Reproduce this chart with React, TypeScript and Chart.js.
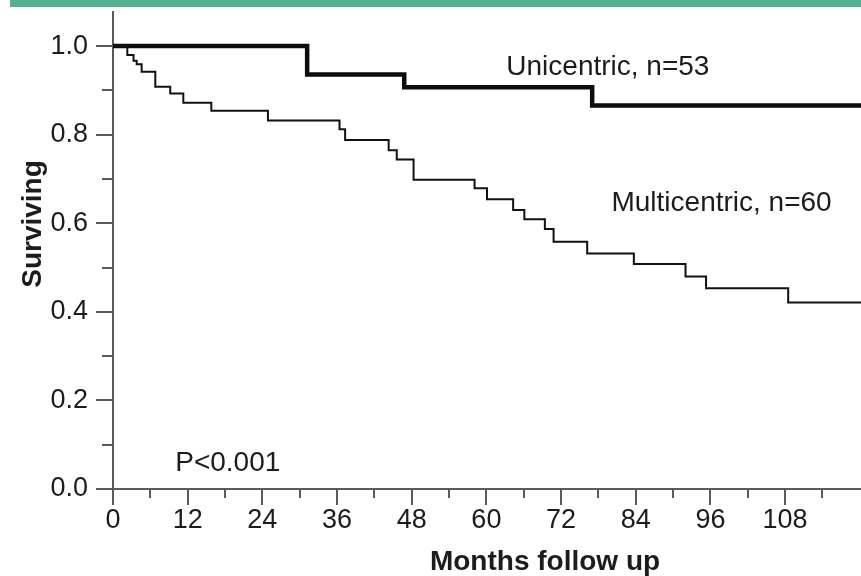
import React, { useEffect, useRef } from "react";
import { Chart, registerables } from "chart.js";

Chart.register(...registerables);

// Kaplan-Meier survival curves (months, proportion surviving)
const uniTimes = [0, 31.2, 46.8, 77.0, 121];
const uniSurv = [1.0, 0.936, 0.907, 0.866, 0.866];

const multiTimes = [0, 2.3, 3.3, 3.8, 4.6, 6.8, 9.2, 11.3, 15.8, 24.9, 36.4, 37.3, 44.3, 45.6, 48.3, 58.1, 60.1, 64.3, 66.1, 69.4, 70.8, 76.2, 83.7, 92.0, 95.3, 108.5, 121];
const multiSurv = [1.0, 0.98, 0.967, 0.959, 0.942, 0.908, 0.893, 0.872, 0.854, 0.832, 0.812, 0.788, 0.765, 0.744, 0.698, 0.679, 0.654, 0.63, 0.609, 0.587, 0.558, 0.532, 0.508, 0.48, 0.453, 0.421, 0.421];

const xTickValues = [0, 6, 12, 18, 24, 30, 36, 42, 48, 54, 60, 66, 72, 78, 84, 90, 96, 102, 108, 114];
const yTickValues = [0, 0.1, 0.2, 0.3, 0.4, 0.5, 0.6, 0.7, 0.8, 0.9, 1.0];

const seriesLabels = ["Unicentric, n=53", "Multicentric, n=60"];
const pValueText = "P<0.001";
const xTitle = "Months follow up";
const yTitle = "Surviving";

const FONT = "'Liberation Sans', Arial, Helvetica, sans-serif";
const AXIS_COLOR = "#5a5a5a";
const TEXT_COLOR = "#1c1c1c";

const decorPlugin = {
  id: "decor",
  afterDraw(chart: any) {
    const { ctx, scales } = chart;
    const xs = scales.x;
    const ys = scales.y;
    const x0 = xs.left;
    const y0 = ys.bottom;
    ctx.save();
    ctx.strokeStyle = AXIS_COLOR;
    ctx.lineWidth = 2;
    // y tick marks
    ys.ticks.forEach((t: any, i: number) => {
      const py = Math.round(ys.getPixelForValue(t.value));
      const len = i % 2 === 0 ? 17 : 11;
      ctx.beginPath();
      ctx.moveTo(x0 - len, py);
      ctx.lineTo(x0, py);
      ctx.stroke();
    });
    // x tick marks
    xs.ticks.forEach((t: any) => {
      const px = Math.round(xs.getPixelForValue(t.value));
      const len = t.value % 12 === 0 ? 16 : 9;
      ctx.beginPath();
      ctx.moveTo(px, y0);
      ctx.lineTo(px, y0 + len);
      ctx.stroke();
    });

    // annotations
    ctx.fillStyle = TEXT_COLOR;
    ctx.font = `28px ${FONT}`;
    ctx.textAlign = "left";
    ctx.textBaseline = "alphabetic";
    ctx.fillText(seriesLabels[0], xs.getPixelForValue(63.2), ys.getPixelForValue(0.934));
    ctx.fillText(seriesLabels[1], xs.getPixelForValue(80.1), ys.getPixelForValue(0.628));
    ctx.fillText(pValueText, xs.getPixelForValue(10.0), ys.getPixelForValue(0.041));

    // axis titles
    ctx.font = `bold 28px ${FONT}`;
    ctx.textAlign = "center";
    ctx.fillText(xTitle, 545, 570);
    ctx.save();
    ctx.translate(41, 224);
    ctx.rotate(-Math.PI / 2);
    ctx.fillText(yTitle, 0, 0);
    ctx.restore();
    ctx.restore();
  },
};

export default function App() {
  const canvasRef = useRef<HTMLCanvasElement | null>(null);

  useEffect(() => {
    document.body.style.margin = "0";
    const canvas = canvasRef.current;
    if (!canvas) return;
    const chart = new Chart(canvas, {
      type: "line",
      data: {
        datasets: [
          {
            label: seriesLabels[1],
            data: multiTimes.map((t, i) => ({ x: t, y: multiSurv[i] })),
            borderColor: "#111111",
            borderWidth: 2,
            stepped: "before",
            pointRadius: 0,
            fill: false,
          },
          {
            label: seriesLabels[0],
            data: uniTimes.map((t, i) => ({ x: t, y: uniSurv[i] })),
            borderColor: "#0d0d0d",
            borderWidth: 4.5,
            stepped: "before",
            pointRadius: 0,
            fill: false,
          },
        ],
      },
      options: {
        animation: false,
        responsive: false,
        devicePixelRatio: 1,
        layout: { padding: { top: 12, right: 0, bottom: 0, left: 0 } },
        plugins: {
          legend: { display: false },
          tooltip: { enabled: false },
        },
        scales: {
          x: {
            type: "linear",
            min: 0,
            max: 120.2,
            afterFit: (s: any) => {
              s.height = 87;
              s.paddingLeft = 0;
              s.paddingRight = 0;
            },
            afterBuildTicks: (s: any) => {
              s.ticks = xTickValues.map((v) => ({ value: v }));
            },
            ticks: {
              autoSkip: false,
              maxRotation: 0,
              padding: 15,
              color: TEXT_COLOR,
              font: { family: FONT, size: 27 },
              callback: (v: any) => (Number(v) % 12 === 0 ? String(v) : ""),
            },
            grid: { display: false, drawTicks: false },
            border: { display: true, color: AXIS_COLOR, width: 2 },
          },
          y: {
            type: "linear",
            min: 0,
            max: 1.077,
            afterFit: (s: any) => {
              s.width = 113;
              s.paddingTop = 0;
              s.paddingBottom = 0;
            },
            afterBuildTicks: (s: any) => {
              s.ticks = yTickValues.map((v) => ({ value: v }));
            },
            ticks: {
              autoSkip: false,
              padding: 25,
              color: TEXT_COLOR,
              font: { family: FONT, size: 27 },
              callback: (v: any, i: number) => (i % 2 === 0 ? Number(v).toFixed(1) : ""),
            },
            grid: { display: false, drawTicks: false },
            border: { display: true, color: AXIS_COLOR, width: 2 },
          },
        },
      },
      plugins: [decorPlugin],
    });
    return () => chart.destroy();
  }, []);

  return (
    <div style={{ position: "fixed", left: 0, top: 0, width: 861, height: 576, background: "#ffffff", overflow: "hidden" }}>
      <canvas ref={canvasRef} width={861} height={576} style={{ display: "block" }} />
      <div style={{ position: "absolute", left: 10, top: 0, width: 851, height: 7, background: "#53b18f" }} />
    </div>
  );
}
